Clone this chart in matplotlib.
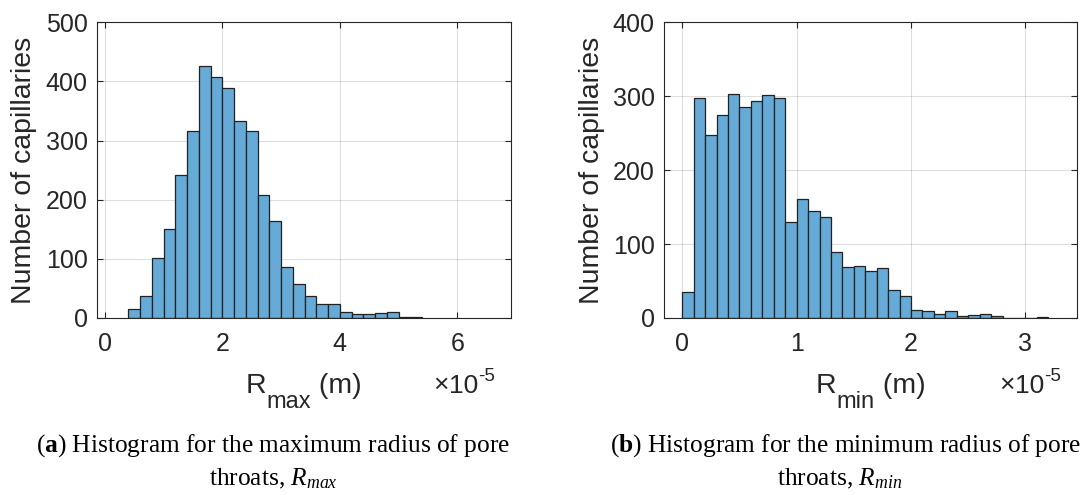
import matplotlib
matplotlib.use("Agg")
import matplotlib.pyplot as plt
import numpy as np

# histogram counts (radii in units of 1e-5 m)
rmax_bin_start = 0.4
rmax_bin_width = 0.2
rmax_counts = [15, 38, 101, 150, 242, 316, 426, 408, 389, 333, 316, 208, 164,
               86, 57, 38, 23, 23, 10, 7, 6, 8, 10, 2, 1]

rmin_bin_start = 0.0
rmin_bin_width = 0.1
rmin_counts = [35, 297, 247, 274, 303, 286, 294, 302, 298, 130, 161, 145, 136,
               89, 69, 70, 64, 68, 38, 30, 11, 9, 5, 9, 3, 4, 5, 3, 0, 0, 0, 2]

rmax_xticks = [0, 2, 4, 6]
rmin_xticks = [0, 1, 2, 3]
rmax_yticks = [0, 100, 200, 300, 400, 500]
rmin_yticks = [0, 100, 200, 300, 400]

plt.rcParams["font.family"] = ["Liberation Sans", "DejaVu Sans"]
plt.rcParams["mathtext.fontset"] = "custom"
plt.rcParams["mathtext.rm"] = "Liberation Serif"
plt.rcParams["mathtext.it"] = "Liberation Serif:italic"
plt.rcParams["mathtext.bf"] = "Liberation Serif:bold"

W, H = 1080, 495
BAR = "#66aad7"
AXC = "#262626"
TICK_FS = 18
LABEL_FS = 20.5
CAP_FS = 18.3


def px(x, y):
    return x / W, 1 - y / H


def piece_row(fig, pieces, x, y, align="center"):
    """Draw text pieces side by side; each piece is (text, size, dy_px)."""
    r = fig.canvas.get_renderer()
    arts = []
    for s, fs, dy in pieces:
        t = fig.text(0, 0, s, fontsize=fs, color=AXC, va="baseline",
                     ha="left")
        arts.append((t, t.get_window_extent(r).width, dy))
    total = sum(w for _, w, _ in arts)
    x0 = x - total / 2 if align == "center" else x - total
    for t, w, dy in arts:
        t.set_position(px(x0, y + dy))
        x0 += w


def draw_hist(ax, start, width, counts, xlim, xticks, yticks):
    left = start + width * np.arange(len(counts))
    ax.bar(left, counts, width=width, align="edge", color=BAR,
           edgecolor="#222222", linewidth=0.9, zorder=2)
    ax.set_xlim(*xlim)
    ax.set_ylim(yticks[0], yticks[-1])
    ax.set_xticks(xticks)
    ax.set_yticks(yticks)
    ax.grid(True, color="#262626", alpha=0.15, linewidth=0.8, zorder=0)
    ax.set_axisbelow(True)
    ax.tick_params(direction="in", length=4, width=0.8, colors=AXC,
                   labelsize=TICK_FS, top=True, right=True)
    ax.tick_params(axis="x", pad=10)
    ax.tick_params(axis="y", pad=7)
    for sp in ax.spines.values():
        sp.set_color(AXC)
        sp.set_linewidth(0.8)
    ax.set_ylabel("Number of capillaries", fontsize=LABEL_FS, color=AXC)
    ax.yaxis.set_label_coords(-0.145, 0.5)


fig = plt.figure(figsize=(10.8, 4.95), dpi=100)
ax1 = fig.add_axes([0.0901, 0.3576, 0.3828, 0.5974])
ax2 = fig.add_axes([0.6151, 0.3576, 0.3819, 0.5974])

draw_hist(ax1, rmax_bin_start, rmax_bin_width, rmax_counts,
          (-0.13, 6.91), rmax_xticks, rmax_yticks)
draw_hist(ax2, rmin_bin_start, rmin_bin_width, rmin_counts,
          (-0.157, 3.449), rmin_xticks, rmin_yticks)

# x labels with MATLAB-style low subscripts, and the x10^-5 multiplier
for ax, sub in ((ax1, "max"), (ax2, "min")):
    l, b, w, h = ax.get_position().bounds
    cx = (l + w / 2) * W
    rx = (l + w) * W
    piece_row(fig, [("R", LABEL_FS, 0), (sub, 17, 15), (" (m)", LABEL_FS, 0)],
              cx, 393)
    piece_row(fig, [("\u00d7", 19, -1), ("10", TICK_FS + 1, 0),
                    ("-5", 13.5, -12)], rx - 16, 393, align="right")

cap = dict(family=["Liberation Serif", "DejaVu Serif"], fontsize=CAP_FS,
           ha="center", va="baseline", color="black")
fig.text(*px(273, 451.7),
         r"($\mathbf{a}$) Histogram for the maximum radius of pore", **cap)
fig.text(*px(273, 485.7), r"throats, $R_{max}$", **cap)
fig.text(*px(846, 451.7),
         r"($\mathbf{b}$) Histogram for the minimum radius of pore", **cap)
fig.text(*px(840, 485.7), r"throats, $R_{min}$", **cap)

fig.savefig("out.png", dpi=100)
